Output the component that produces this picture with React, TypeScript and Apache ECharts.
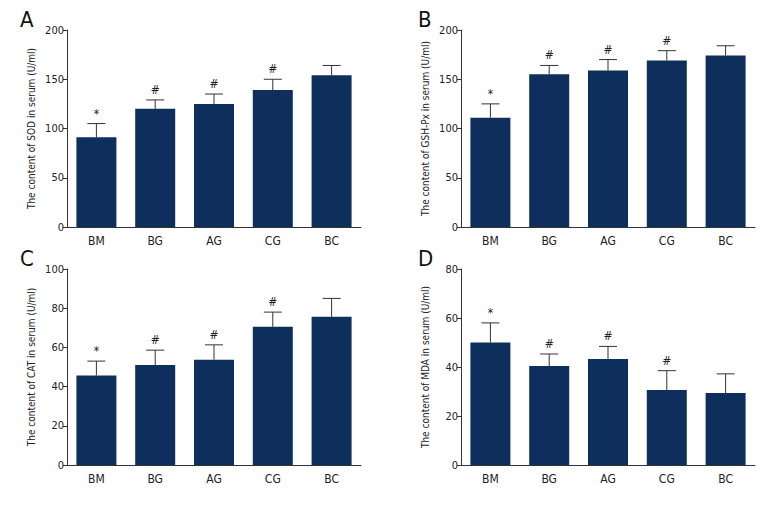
import React, { useEffect, useRef } from "react";
import * as echarts from "echarts";

const categories = ["BM", "BG", "AG", "CG", "BC"];
const marks = ["*", "#", "#", "#", ""];

const sodMean = [91, 120, 125, 139, 154];
const sodUpper = [105, 129, 135, 150, 164];
const gshMean = [111, 155, 159, 169, 174];
const gshUpper = [125, 164, 170, 179, 184];
const catMean = [45.7, 51, 53.7, 70.5, 75.6];
const catUpper = [53, 58.6, 61.3, 78, 85];
const mdaMean = [50, 40.4, 43.3, 30.6, 29.4];
const mdaUpper = [58, 45.3, 48.4, 38.5, 37.2];

const yTitles = [
  "The content of SOD in serum (U/ml)",
  "The content of GSH-Px in serum (U/ml)",
  "The content of CAT in serum (U/ml)",
  "The content of MDA in serum (U/ml)",
];
const yMax = [200, 200, 100, 80];
const yInterval = [50, 50, 20, 20];
const panelLetters = ["A", "B", "C", "D"];

const FONT = '"Liberation Sans Narrow", "DejaVu Sans Condensed", sans-serif';
const BAR = "#0e2f5c";
const LINE = "#333333";

export default function App() {
  const ref = useRef<HTMLDivElement>(null);
  useEffect(() => {
    document.body.style.margin = "0";
    if (!ref.current) return;
    const chart = echarts.init(ref.current, undefined, { renderer: "svg" });
    const means = [sodMean, gshMean, catMean, mdaMean];
    const uppers = [sodUpper, gshUpper, catUpper, mdaUpper];
    const grids = [
      { left: 67, top: 30, width: 294, height: 197 },
      { left: 461, top: 30, width: 294, height: 197 },
      { left: 67, top: 269, width: 294, height: 196 },
      { left: 461, top: 269, width: 294, height: 196 },
    ];
    const letterPos = [
      [20, 8],
      [418, 8],
      [20, 247],
      [418, 247],
    ];
    const series: any[] = [];
    means.forEach((m, k) => {
      series.push({
        type: "bar",
        xAxisIndex: k,
        yAxisIndex: k,
        data: m,
        barWidth: 40,
        itemStyle: { color: BAR },
        silent: true,
      });
      series.push({
        type: "custom",
        xAxisIndex: k,
        yAxisIndex: k,
        clip: false,
        data: categories.map((c, i) => [i, m[i], uppers[k][i]]),
        renderItem: (params: any, api: any) => {
          const x = api.value(0);
          const p0 = api.coord([x, api.value(1)]);
          const p1 = api.coord([x, api.value(2)]);
          const st = { stroke: LINE, lineWidth: 1 };
          return {
            type: "group",
            children: [
              { type: "line", shape: { x1: p0[0], y1: p0[1], x2: p1[0], y2: p1[1] }, style: st },
              { type: "line", shape: { x1: p1[0] - 9, y1: p1[1], x2: p1[0] + 9, y2: p1[1] }, style: st },
              {
                type: "text",
                style: {
                  text: marks[params.dataIndex],
                  x: p1[0],
                  y: p1[1] - 4,
                  align: "center",
                  verticalAlign: "bottom",
                  fontSize: 12,
                  fontFamily: FONT,
                  fill: "#222",
                },
              },
            ],
          };
        },
      });
    });
    chart.setOption({
      animation: false,
      grid: grids,
      xAxis: grids.map((g, k) => ({
        type: "category",
        gridIndex: k,
        data: categories,
        axisLine: { lineStyle: { color: LINE, width: 1 } },
        axisTick: { show: false },
        axisLabel: { color: "#222", fontSize: 12, fontFamily: FONT, margin: 8 },
      })),
      yAxis: grids.map((g, k) => ({
        type: "value",
        gridIndex: k,
        min: 0,
        max: yMax[k],
        interval: yInterval[k],
        name: yTitles[k],
        nameLocation: "middle",
        nameGap: 31,
        nameTextStyle: { color: "#222", fontSize: 10, fontFamily: FONT },
        splitLine: { show: false },
        axisLine: { show: true, lineStyle: { color: LINE, width: 1 } },
        axisTick: { show: true, length: 4, lineStyle: { color: LINE } },
        axisLabel: { color: "#222", fontSize: 11, fontFamily: FONT, margin: 3 },
      })),
      series,
      graphic: panelLetters.map((t, k) => ({
        type: "text",
        left: letterPos[k][0],
        top: letterPos[k][1],
        style: { text: t, fontSize: 22, fontFamily: FONT, fill: "#111" },
      })),
    });
    return () => chart.dispose();
  }, []);
  return <div ref={ref} style={{ width: 780, height: 510, background: "#fff" }} />;
}
